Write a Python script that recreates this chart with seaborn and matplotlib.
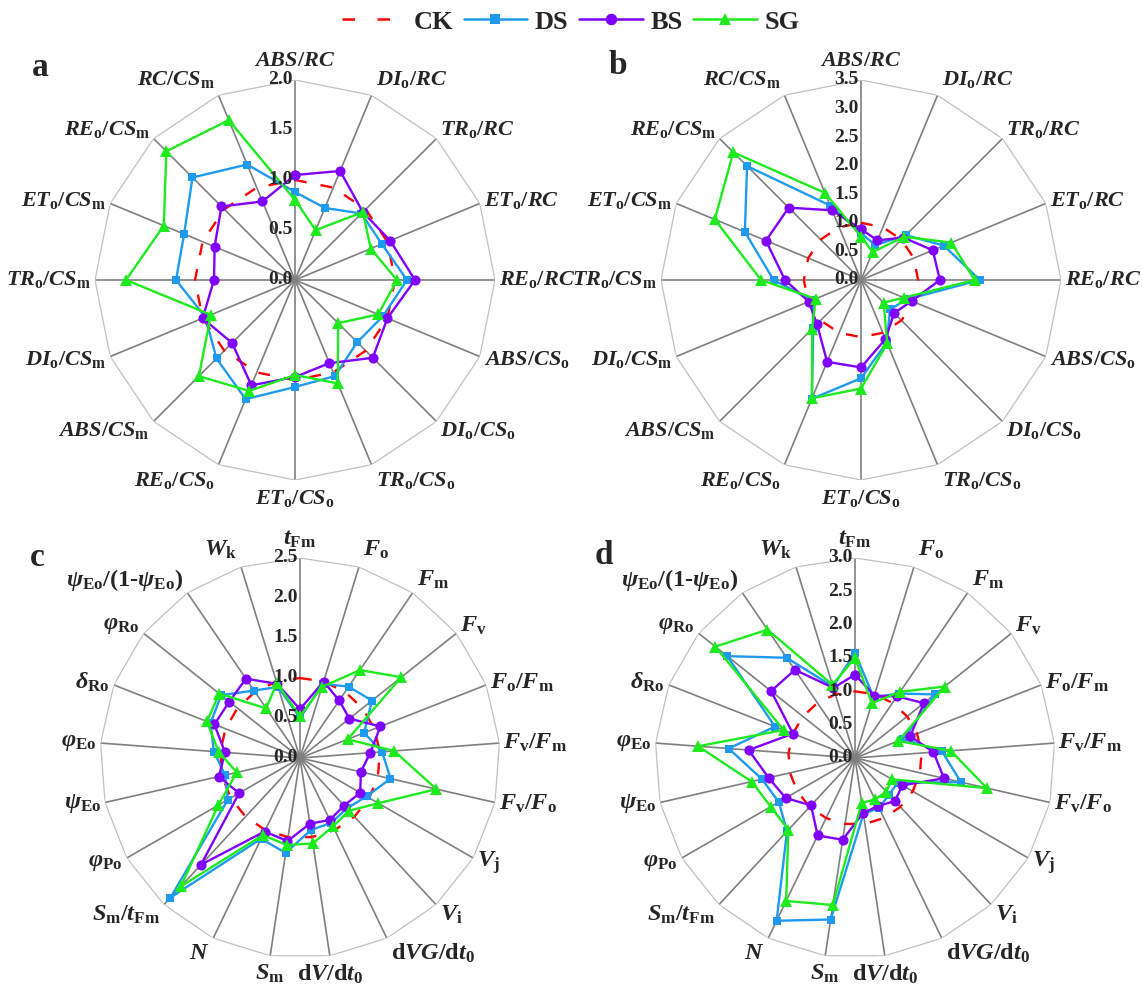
import numpy as np
import matplotlib
matplotlib.use('Agg')
import matplotlib.pyplot as plt
import matplotlib.transforms as mtransforms
from matplotlib.lines import Line2D
import seaborn as sns

sns.set_theme(style='white')
plt.rcParams['font.family'] = ['Liberation Serif', 'DejaVu Serif']
plt.rcParams['font.weight'] = 'bold'
plt.rcParams['mathtext.fontset'] = 'custom'
plt.rcParams['mathtext.rm'] = 'Liberation Serif:bold'
plt.rcParams['mathtext.it'] = 'Liberation Serif:italic:bold'
plt.rcParams['mathtext.bf'] = 'Liberation Serif:bold'

# ---- data ----
groups = ['CK', 'DS', 'BS', 'SG']
colors = {'CK': '#FF0000', 'DS': '#1E9AF0', 'BS': '#8000FF', 'SG': '#1EEB1E'}
markers = {'DS': 's', 'BS': 'o', 'SG': '^'}
msizes = {'DS': 6.3, 'BS': 7.3, 'SG': 8}

labels_ab = [r'$ABS/RC$', r'$DI_{\mathrm{o}}/RC$', r'$TR_{\mathrm{o}}/RC$', r'$ET_{\mathrm{o}}/RC$',
             r'$RE_{\mathrm{o}}/RC$', r'$ABS/CS_{\mathrm{o}}$', r'$DI_{\mathrm{o}}/CS_{\mathrm{o}}$',
             r'$TR_{\mathrm{o}}/CS_{\mathrm{o}}$', r'$ET_{\mathrm{o}}/CS_{\mathrm{o}}$',
             r'$RE_{\mathrm{o}}/CS_{\mathrm{o}}$', r'$ABS/CS_{\mathrm{m}}$', r'$DI_{\mathrm{o}}/CS_{\mathrm{m}}$',
             r'$TR_{\mathrm{o}}/CS_{\mathrm{m}}$', r'$ET_{\mathrm{o}}/CS_{\mathrm{m}}$',
             r'$RE_{\mathrm{o}}/CS_{\mathrm{m}}$', r'$RC/CS_{\mathrm{m}}$']

labels_cd = [r'$t_{\mathrm{Fm}}$', r'$F_{\mathrm{o}}$', r'$F_{\mathrm{m}}$', r'$F_{\mathrm{v}}$',
             r'$F_{\mathrm{o}}/F_{\mathrm{m}}$', r'$F_{\mathrm{v}}/F_{\mathrm{m}}$', r'$F_{\mathrm{v}}/F_{\mathrm{o}}$',
             r'$V_{\mathrm{j}}$', r'$V_{\mathrm{i}}$', r'$\mathrm{d}VG/\mathrm{d}t_{\mathrm{0}}$',
             r'$\mathrm{d}V/\mathrm{d}t_{\mathrm{0}}$', r'$S_{\mathrm{m}}$', r'$N$',
             r'$S_{\mathrm{m}}/t_{\mathrm{Fm}}$', r'$\varphi_{\mathrm{Po}}$', r'$\psi_{\mathrm{Eo}}$',
             r'$\varphi_{\mathrm{Eo}}$', r'$\delta_{\mathrm{Ro}}$', r'$\varphi_{\mathrm{Ro}}$',
             r'$\psi_{\mathrm{Eo}}$/(1-$\psi_{\mathrm{Eo}}$)', r'$W_{\mathrm{k}}$']

# panel a
a_ck = [1.0] * 16
a_ds = [0.88, 0.78, 0.94, 0.94, 1.12, 0.95, 0.88, 1.04, 1.07, 1.29, 1.11, 0.97, 1.19, 1.20, 1.45, 1.25]
a_bs = [1.05, 1.18, 0.96, 1.03, 1.20, 1.00, 1.10, 0.90, 0.97, 1.14, 0.89, 1.00, 0.81, 0.87, 1.04, 0.85]
a_sg = [0.80, 0.54, 0.96, 0.82, 1.02, 0.90, 0.61, 1.12, 0.95, 1.20, 1.36, 0.91, 1.69, 1.42, 1.82, 1.73]

# panel b
b_ck = [1.0] * 16
b_ds = [0.82, 0.66, 1.11, 1.57, 2.08, 0.88, 0.72, 1.18, 1.72, 2.25, 1.18, 0.92, 1.53, 2.20, 2.82, 1.41]
b_bs = [0.89, 0.75, 1.05, 1.36, 1.38, 0.96, 0.82, 1.12, 1.53, 1.55, 1.09, 0.99, 1.33, 1.80, 1.79, 1.32]
b_sg = [0.76, 0.53, 1.07, 1.71, 1.99, 0.81, 0.56, 1.20, 1.90, 2.24, 1.21, 0.86, 1.75, 2.77, 3.16, 1.65]

# panel c
c_ck = [1.0] * 21
c_ds = [0.50, 0.97, 1.08, 1.15, 0.86, 1.03, 1.16, 0.96, 0.86, 0.90, 0.91, 1.20, 1.12, 2.38, 1.04,
        0.96, 1.08, 1.20, 1.26, 1.02, 0.93]
c_bs = [0.61, 1.00, 0.87, 0.79, 1.08, 0.88, 0.78, 0.87, 0.81, 0.86, 0.83, 1.05, 1.02, 1.82, 0.88,
        1.04, 0.94, 1.15, 1.13, 1.20, 0.97]
c_sg = [0.52, 0.93, 1.33, 1.62, 0.64, 1.18, 1.75, 1.13, 0.90, 0.95, 1.08, 1.10, 1.07, 2.19, 1.18,
        0.81, 1.02, 1.25, 1.29, 0.75, 0.98]

# panel d
d_ck = [1.0] * 21
d_ds = [1.58, 0.95, 1.17, 1.53, 0.78, 1.31, 1.63, 0.74, 0.75, 0.83, 0.85, 2.45, 2.71, 1.50, 1.32,
        1.43, 1.90, 1.29, 2.45, 1.82, 1.12]
d_bs = [1.25, 0.98, 1.12, 1.32, 0.89, 1.18, 1.37, 0.82, 0.88, 0.80, 0.83, 1.24, 1.29, 0.97, 1.20,
        1.33, 1.60, 1.00, 1.61, 1.60, 1.10]
d_sg = [1.50, 0.86, 1.20, 1.72, 0.70, 1.44, 2.03, 0.64, 0.69, 0.69, 0.68, 2.23, 2.38, 1.47, 1.46,
        1.59, 2.36, 1.15, 2.68, 2.33, 1.15]

W, H = 1142, 990
fig = plt.figure(figsize=(W / 100, H / 100), dpi=100)
R = 200  # radius in px


def radar(cx, cy, letter, labels, series, rmax, lab_size):
    ax = fig.add_axes([(cx - R) / W, 1 - (cy + R) / H, 2 * R / W, 2 * R / H], projection='polar')
    ax.set_theta_zero_location('N')
    ax.set_theta_direction(-1)
    n = len(labels)
    ang = np.linspace(0, 2 * np.pi, n, endpoint=False)
    ang_c = np.append(ang, 2 * np.pi)

    # outer polygon
    ax.plot(ang_c, [rmax] * (n + 1), color='#C0C0C0', lw=0.9, zorder=1)

    for g, vals in zip(groups, series):
        v = np.append(vals, vals[0])
        if g == 'CK':
            sns.lineplot(x=ang_c, y=v, color=colors[g], lw=1.7, linestyle=(0, (5, 6)),
                         sort=False, estimator=None, ax=ax, zorder=3)
        else:
            sns.lineplot(x=ang_c, y=v, color=colors[g], lw=1.7, marker=markers[g],
                         markersize=msizes[g], markeredgewidth=0, sort=False,
                         estimator=None, ax=ax, zorder=4)

    ax.set_ylim(0, rmax)
    ax.set_xticks(ang)
    ax.set_xticklabels([])
    ax.set_yticks(np.arange(0, rmax + 0.01, 0.5))
    ax.set_yticklabels([])
    ax.xaxis.grid(True, color='#7F7F7F', lw=1.2)
    ax.yaxis.grid(False)
    ax.spines['polar'].set_visible(False)
    ax.patch.set_alpha(0)
    ax.set_xlabel('')
    ax.set_ylabel('')

    off = mtransforms.offset_copy(ax.transData, fig=fig, x=-2, y=0, units='dots')
    for r in np.arange(0, rmax + 0.01, 0.5):
        ax.text(0, r, f'{r:.1f}', transform=off, ha='right', va='center',
                fontsize=14, fontweight='bold', zorder=5)

    # axis names just outside the spoke ends
    for a, lab in zip(ang, labels):
        s, c = np.sin(a), np.cos(a)
        ha = 'left' if s > 0.15 else ('right' if s < -0.15 else 'center')
        dx = 4 * np.sign(s) if abs(s) > 0.15 else 0
        dy = 19 * c * abs(c)
        tr = mtransforms.offset_copy(ax.transData, fig=fig, x=dx, y=dy, units='dots')
        ax.text(a, rmax, lab, transform=tr, ha=ha, va='center', fontsize=lab_size,
                fontweight='bold')

    fig.text(letter[1] / W, 1 - letter[2] / H, letter[0], fontsize=24, fontweight='bold',
             ha='center', va='center')
    return ax


radar(295, 280, ('a', 40, 67), labels_ab, [a_ck, a_ds, a_bs, a_sg], 2.0, 16)
radar(861, 280, ('b', 618, 66), labels_ab, [b_ck, b_ds, b_bs, b_sg], 3.5, 16)
radar(300, 758, ('c', 37, 558), labels_cd, [c_ck, c_ds, c_bs, c_sg], 2.5, 17.5)
radar(855, 758, ('d', 604, 556), labels_cd, [d_ck, d_ds, d_bs, d_sg], 3.0, 17.5)

handles = [Line2D([], [], color=colors['CK'], lw=1.8, linestyle=(0, (5, 9)))]
for g in groups[1:]:
    handles.append(Line2D([], [], color=colors[g], lw=1.8, marker=markers[g],
                          markersize=msizes[g] + 1, markeredgewidth=0))
fig.legend(handles, groups, loc='center', bbox_to_anchor=(0.5, 1 - 22 / H), ncol=4,
           frameon=False, handlelength=2.4, handletextpad=0.3,
           columnspacing=0.4, prop={'weight': 'bold', 'size': 19})

fig.savefig('out.png', dpi=100)
